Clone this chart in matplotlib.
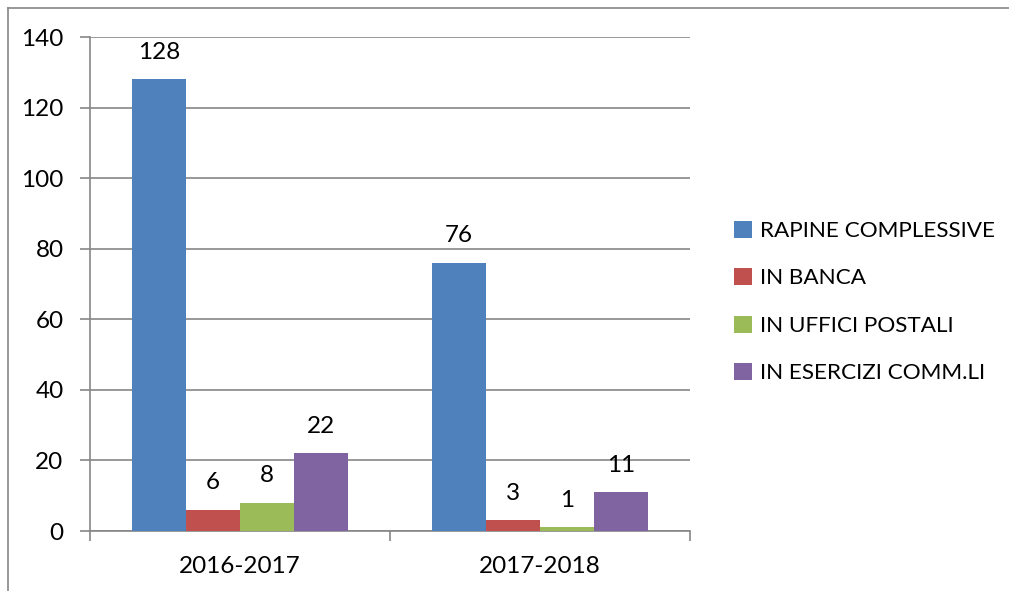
import matplotlib
matplotlib.use("Agg")
import matplotlib.pyplot as plt
from matplotlib.lines import Line2D
from matplotlib.patches import Patch
import numpy as np

categories = ["2016-2017", "2017-2018"]
series_names = ["RAPINE COMPLESSIVE", "IN BANCA", "IN UFFICI POSTALI", "IN ESERCIZI COMM.LI"]
rapine = [128, 76]
banca = [6, 3]
poste = [8, 1]
esercizi = [22, 11]
colors = ["#4F81BD", "#C0504D", "#9BBB59", "#8064A2"]
yticks = [0, 20, 40, 60, 80, 100, 120, 140]

plt.rcParams['font.family'] = ['Lato', 'DejaVu Sans']
FS = 17.5
LFS = 16.2
GRID = "#868686"

fig = plt.figure(figsize=(10.09, 5.91), dpi=100)
ax = fig.add_axes([90/1009, 60/591, 600/1009, 494/591])

x = np.arange(len(categories))
w = 0.18
data = [rapine, banca, poste, esercizi]
for i, (vals, c, name) in enumerate(zip(data, colors, series_names)):
    pos = x + (i - 1.5) * w
    ax.bar(pos, vals, w, color=c, label=name, zorder=3)
    for xp, v in zip(pos, vals):
        ax.annotate(str(v), (xp, v), xytext=(0, 12), textcoords="offset points",
                    ha="center", va="bottom", fontsize=FS, color="black")

ax.set_xlim(-0.5, 1.5)
ax.set_ylim(0, 140)
ax.set_yticks(yticks)
ax.set_yticklabels([str(t) for t in yticks], fontsize=FS)
ax.yaxis.grid(True, color=GRID, linewidth=1.2, zorder=0)
ax.tick_params(axis='y', length=7, width=1.2, color=GRID, pad=12)

ax.set_xticks([-0.5, 0.5, 1.5])
ax.set_xticklabels([])
ax.set_xticks(x, minor=True)
ax.set_xticklabels(categories, minor=True, fontsize=FS)
ax.tick_params(axis='x', which='major', length=7, width=1.2, color=GRID)
ax.tick_params(axis='x', which='minor', length=0, pad=18)

for s in ["top", "right"]:
    ax.spines[s].set_visible(False)
for s in ["left", "bottom"]:
    ax.spines[s].set_color(GRID)
    ax.spines[s].set_linewidth(1.2)

handles = [Patch(facecolor=c, label=n) for c, n in zip(colors, series_names)]
fig.legend(handles=handles, loc="center left", bbox_to_anchor=(725/1009, 289/591),
           frameon=False, fontsize=LFS, handlelength=0.8, handleheight=0.8,
           handletextpad=0.35, labelspacing=1.2, borderaxespad=0)

# outer chart border (top and left visible)
fig.add_artist(Line2D([8/1009, 8/1009], [0, 1 - 8/591], transform=fig.transFigure,
                      color=GRID, linewidth=1.2))
fig.add_artist(Line2D([8/1009, 1], [1 - 8/591, 1 - 8/591], transform=fig.transFigure,
                      color=GRID, linewidth=1.2))

fig.savefig("out.png", dpi=100)
